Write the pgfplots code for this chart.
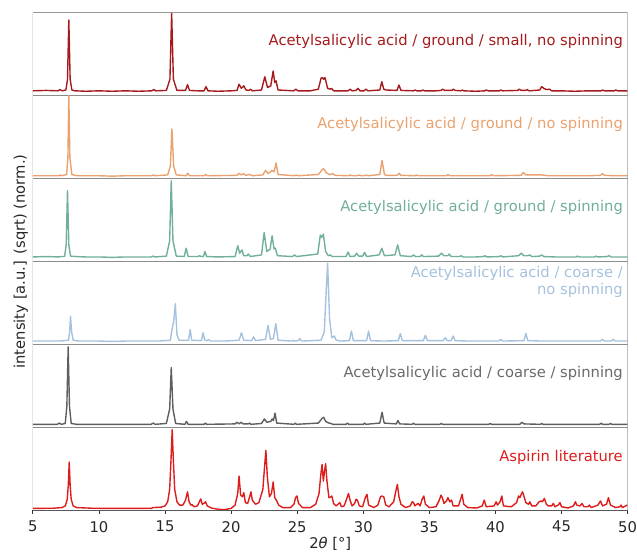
\documentclass[border=0pt]{standalone}
\usepackage{fontspec}
\setmainfont{DejaVu Sans}
\usepackage{pgfplots}
\usepackage{pgfplotstable}
\pgfplotsset{compat=1.18}
\definecolor{cdred}{HTML}{A51A1C}
\definecolor{corange}{HTML}{E9A26F}
\definecolor{cteal}{HTML}{70AF9A}
\definecolor{cblue}{HTML}{A6C1DD}
\definecolor{cgray}{HTML}{5E5E5E}
\definecolor{cgraylab}{HTML}{6A6A6A}
\definecolor{cred}{HTML}{DD1C1C}
\newcommand\ff{\fontsize{14.8bp}{16.7bp}\selectfont}

\pgfplotstableread{
x y
5.0 0.06
6.0 0.065
6.9 0.06
7.05 0.075
7.2 0.06
7.5 0.07
7.62 0.2
7.72 0.915
7.82 0.2
7.95 0.07
8.2 0.06
9.0 0.055
10 0.06
11 0.055
12 0.06
13 0.055
14.0 0.06
14.15 0.075
14.3 0.06
15.1 0.065
15.37 0.2
15.5 1.0
15.63 0.2
15.9 0.065
16.55 0.065
16.7 0.135
16.85 0.065
17.5 0.06
17.95 0.06
18.1 0.11
18.25 0.06
19.0 0.055
20.0 0.06
20.45 0.065
20.6 0.14
20.78 0.09
20.96 0.12
21.12 0.07
21.35 0.065
21.47 0.08
21.6 0.06
22.3 0.07
22.55 0.23
22.75 0.1
23.0 0.12
23.18 0.30
23.3 0.16
23.4 0.18
23.55 0.07
24.75 0.06
24.9 0.08
25.05 0.06
26.0 0.06
26.6 0.08
26.8 0.21
26.9 0.22
27.0 0.2
27.1 0.22
27.3 0.09
27.5 0.08
27.6 0.09
27.75 0.06
28.85 0.06
29.0 0.08
29.15 0.06
29.45 0.065
29.6 0.09
29.75 0.06
30.05 0.06
30.2 0.08
30.35 0.06
31.25 0.07
31.4 0.17
31.55 0.08
31.7 0.07
32.55 0.065
32.7 0.13
32.85 0.065
33.8 0.06
33.9 0.07
34.05 0.06
34.4 0.06
34.5 0.07
34.65 0.06
35.5 0.06
35.9 0.065
36.0 0.08
36.15 0.065
36.7 0.065
36.8 0.08
36.95 0.065
37.4 0.06
37.5 0.07
37.6 0.06
38.5 0.055
39.2 0.06
39.3 0.07
39.45 0.06
40.3 0.06
40.4 0.07
40.55 0.06
41.7 0.065
41.8 0.08
41.95 0.065
42.3 0.065
42.4 0.075
42.55 0.06
43.35 0.07
43.5 0.11
43.7 0.085
43.9 0.075
44.1 0.08
44.25 0.06
45 0.06
46 0.055
47 0.06
48.0 0.06
48.1 0.07
48.25 0.06
49.0 0.06
49.1 0.07
49.25 0.06
50 0.06
}\pone

\pgfplotstableread{
x y
5.0 0.035
6.0 0.035
7.0 0.035
7.05 0.045
7.2 0.035
7.55 0.05
7.65 0.25
7.72 1.0
7.8 0.25
7.95 0.05
8.3 0.035
9 0.035
10 0.035
11 0.03
12 0.035
13 0.035
14.0 0.035
14.12 0.045
14.25 0.035
15.2 0.045
15.4 0.15
15.52 0.60
15.65 0.15
15.85 0.045
16.6 0.035
16.72 0.065
16.85 0.035
17.95 0.035
18.08 0.05
18.2 0.035
20.45 0.04
20.6 0.065
20.75 0.045
20.95 0.06
21.1 0.04
21.45 0.05
21.6 0.035
22.4 0.045
22.6 0.10
22.8 0.06
23.1 0.10
23.25 0.08
23.4 0.19
23.55 0.05
24.8 0.035
24.92 0.045
25.05 0.035
26.6 0.05
26.9 0.11
27.0 0.12
27.2 0.07
27.45 0.05
27.7 0.06
27.85 0.04
28.9 0.035
29.0 0.045
29.15 0.035
29.55 0.035
29.7 0.045
29.85 0.035
30.1 0.035
30.2 0.045
30.35 0.035
31.25 0.05
31.42 0.22
31.6 0.05
31.75 0.04
32.55 0.04
32.7 0.065
32.85 0.04
33.9 0.035
34.0 0.045
34.15 0.035
36.3 0.035
36.4 0.05
36.55 0.035
37.5 0.035
38.5 0.035
39.6 0.035
39.7 0.05
39.85 0.035
41.95 0.04
42.1 0.075
42.3 0.045
43.5 0.045
44 0.035
45 0.035
46 0.035
47 0.035
47.95 0.04
48.1 0.06
48.25 0.04
49 0.035
50 0.035
}\ptwo

\pgfplotstableread{
x y
5.0 0.055
6.0 0.06
7.0 0.055
7.1 0.06
7.4 0.06
7.52 0.2
7.62 0.857
7.72 0.2
7.85 0.065
8.2 0.06
9 0.055
10 0.055
11 0.05
12 0.055
13 0.055
13.95 0.055
14.1 0.065
14.25 0.055
15.1 0.065
15.35 0.25
15.47 0.976
15.6 0.25
15.85 0.065
16.45 0.06
16.6 0.16
16.75 0.06
17.5 0.06
17.6 0.07
17.75 0.06
17.9 0.06
18.02 0.12
18.15 0.06
19 0.055
20.3 0.06
20.5 0.19
20.65 0.1
20.82 0.14
20.95 0.07
21.2 0.07
21.3 0.09
21.45 0.06
22.3 0.08
22.5 0.35
22.7 0.12
22.95 0.15
23.1 0.31
23.25 0.15
23.35 0.16
23.5 0.07
24.65 0.06
24.8 0.08
24.95 0.06
26.55 0.09
26.75 0.32
26.85 0.29
26.98 0.33
27.15 0.12
27.35 0.07
27.5 0.08
27.65 0.06
28.7 0.06
28.85 0.115
29.0 0.06
29.35 0.065
29.5 0.1
29.65 0.065
29.95 0.065
30.1 0.11
30.25 0.06
31.2 0.08
31.4 0.16
31.6 0.07
32.4 0.08
32.6 0.20
32.8 0.07
33.65 0.06
33.8 0.08
33.95 0.06
34.3 0.06
34.42 0.08
34.55 0.06
35.7 0.065
35.9 0.1
36.1 0.07
36.4 0.07
36.5 0.09
36.65 0.06
37.3 0.06
37.4 0.07
37.55 0.055
38.5 0.055
39.1 0.06
39.2 0.07
39.35 0.055
40.3 0.06
40.4 0.07
40.55 0.055
41.75 0.07
41.95 0.1
42.15 0.07
42.45 0.07
42.6 0.08
42.75 0.06
43.35 0.065
43.5 0.08
43.65 0.06
44.5 0.055
45.5 0.055
46.1 0.055
46.2 0.065
46.35 0.055
47.5 0.055
47.6 0.065
47.75 0.055
48.45 0.06
48.6 0.07
48.75 0.055
49.5 0.055
50 0.055
}\pthree

\pgfplotstableread{
x y
5.0 0.04
6.0 0.04
7.0 0.04
7.7 0.05
7.78 0.15
7.85 0.34
7.93 0.15
8.05 0.05
8.5 0.04
9 0.04
10 0.04
11 0.035
12 0.04
13 0.04
14 0.04
14.5 0.04
15.4 0.05
15.55 0.2
15.65 0.27
15.78 0.49
15.9 0.12
16.05 0.05
16.78 0.05
16.9 0.18
17.02 0.05
17.75 0.045
17.88 0.14
18.0 0.05
18.2 0.045
18.3 0.06
18.42 0.04
19.5 0.04
20.6 0.05
20.78 0.14
20.95 0.05
21.55 0.045
21.7 0.09
21.85 0.045
22.6 0.06
22.8 0.23
22.97 0.06
23.2 0.07
23.38 0.25
23.55 0.05
24.6 0.04
24.7 0.05
24.8 0.04
25.08 0.045
25.2 0.07
25.32 0.04
26.8 0.05
27.05 0.15
27.18 0.6
27.3 0.98
27.45 0.3
27.62 0.08
27.8 0.1
27.95 0.05
28.3 0.04
28.95 0.045
29.1 0.16
29.25 0.045
30.25 0.045
30.4 0.16
30.55 0.045
31.5 0.04
32.65 0.045
32.8 0.13
32.95 0.045
34.55 0.045
34.7 0.11
34.85 0.045
36.05 0.045
36.2 0.08
36.35 0.045
36.65 0.045
36.8 0.1
36.95 0.045
38 0.04
39 0.04
40.25 0.04
40.4 0.06
40.55 0.04
42.15 0.045
42.3 0.13
42.45 0.045
43.5 0.04
44.5 0.04
45.5 0.04
47 0.04
47.95 0.04
48.1 0.06
48.25 0.04
48.75 0.04
48.9 0.06
49.05 0.04
50 0.04
}\pfour

\pgfplotstableread{
x y
5.0 0.035
6 0.035
6.85 0.035
7.0 0.05
7.15 0.035
7.45 0.045
7.57 0.25
7.67 0.97
7.77 0.25
7.9 0.045
8.3 0.035
9 0.035
10 0.035
11 0.035
12 0.035
13 0.035
13.95 0.035
14.1 0.05
14.25 0.035
15.1 0.045
15.35 0.22
15.47 0.72
15.6 0.22
15.8 0.045
16.5 0.035
16.62 0.07
16.75 0.035
17.95 0.035
18.05 0.05
18.15 0.035
20.3 0.04
20.45 0.06
20.6 0.04
20.75 0.06
20.9 0.04
21.3 0.04
21.4 0.05
21.5 0.035
22.3 0.045
22.52 0.10
22.7 0.06
23.0 0.07
23.1 0.10
23.2 0.08
23.32 0.17
23.45 0.05
24.75 0.035
24.85 0.05
24.95 0.035
26.6 0.05
26.9 0.11
27.0 0.12
27.15 0.07
27.4 0.05
27.55 0.045
27.7 0.035
28.7 0.035
28.8 0.05
28.9 0.035
30.0 0.035
30.1 0.05
30.2 0.035
31.25 0.05
31.42 0.18
31.58 0.05
32.5 0.04
32.62 0.08
32.75 0.04
33.7 0.035
33.8 0.05
33.9 0.035
35.8 0.035
35.9 0.045
36.0 0.035
37 0.035
38 0.035
39.5 0.035
39.6 0.045
39.7 0.035
41.85 0.035
42.0 0.06
42.15 0.04
43.4 0.035
43.5 0.045
43.6 0.035
45 0.035
46 0.035
47.9 0.035
48.0 0.05
48.1 0.035
48.6 0.035
48.7 0.045
48.8 0.035
50 0.035
}\pfive

\pgfplotstableread{
x y
5.0 0.02
6.5 0.022
7.2 0.03
7.45 0.05
7.6 0.13
7.68 0.3
7.75 0.58
7.82 0.3
7.9 0.13
8.05 0.05
8.3 0.03
9.5 0.022
11 0.02
13 0.02
14.0 0.02
14.05 0.03
14.7 0.035
15.0 0.05
15.2 0.1
15.35 0.25
15.45 0.6
15.54 0.97
15.63 0.6
15.73 0.25
15.9 0.1
16.1 0.06
16.35 0.06
16.55 0.12
16.7 0.22
16.82 0.1
16.95 0.06
17.05 0.065
17.2 0.04
17.45 0.05
17.6 0.1
17.7 0.135
17.82 0.07
17.95 0.08
18.06 0.1
18.2 0.05
18.5 0.025
19.0 0.01
19.5 0.005
20.0 0.02
20.3 0.06
20.5 0.2
20.6 0.41
20.72 0.18
20.85 0.16
20.96 0.21
21.08 0.09
21.25 0.08
21.4 0.16
21.5 0.22
21.6 0.12
21.85 0.07
22.1 0.09
22.4 0.25
22.52 0.5
22.63 0.72
22.74 0.4
22.9 0.16
23.05 0.2
23.18 0.34
23.3 0.15
23.42 0.12
23.6 0.06
23.9 0.03
24.5 0.03
24.75 0.07
24.88 0.15
24.98 0.17
25.1 0.08
25.4 0.03
26.0 0.03
26.4 0.07
26.65 0.2
26.8 0.45
26.88 0.55
26.98 0.35
27.05 0.45
27.15 0.56
27.25 0.35
27.4 0.15
27.55 0.16
27.62 0.17
27.75 0.08
27.95 0.05
28.15 0.08
28.22 0.09
28.35 0.04
28.55 0.05
28.75 0.14
28.88 0.2
29.0 0.12
29.15 0.05
29.35 0.08
29.45 0.13
29.55 0.12
29.7 0.05
29.95 0.04
30.15 0.15
30.28 0.19
30.4 0.06
30.8 0.03
31.1 0.06
31.3 0.16
31.42 0.17
31.55 0.16
31.7 0.06
31.95 0.04
32.3 0.1
32.45 0.22
32.58 0.31
32.7 0.16
32.85 0.07
33.2 0.03
33.55 0.05
33.7 0.1
33.8 0.09
33.9 0.05
34.05 0.07
34.15 0.08
34.3 0.05
34.45 0.13
34.58 0.17
34.7 0.07
35.0 0.03
35.5 0.04
35.75 0.12
35.88 0.18
35.98 0.15
36.1 0.08
36.3 0.11
36.4 0.15
36.55 0.1
36.68 0.12
36.8 0.05
37.2 0.05
37.38 0.14
37.48 0.19
37.6 0.07
37.9 0.03
38.6 0.025
39.0 0.05
39.15 0.12
39.3 0.04
39.9 0.05
40.05 0.1
40.15 0.06
40.35 0.1
40.48 0.17
40.6 0.05
41.2 0.04
41.6 0.09
41.75 0.17
41.85 0.15
41.95 0.19
42.05 0.22
42.15 0.17
42.3 0.09
42.5 0.07
42.6 0.1
42.75 0.05
43.05 0.05
43.3 0.1
43.45 0.11
43.55 0.1
43.7 0.14
43.85 0.07
44.0 0.05
44.25 0.05
44.38 0.08
44.5 0.04
44.75 0.06
44.88 0.09
45.0 0.04
45.5 0.025
45.9 0.05
46.05 0.1
46.15 0.06
46.4 0.05
46.55 0.08
46.7 0.04
47.0 0.04
47.1 0.06
47.25 0.03
47.75 0.06
47.95 0.11
48.1 0.05
48.4 0.07
48.55 0.15
48.7 0.06
49.1 0.03
49.4 0.04
49.5 0.06
49.6 0.03
49.85 0.05
49.95 0.06
50 0.05
}\psix

\begin{document}
\begin{tikzpicture}
\begin{axis}[
  width=597bp, height=499bp, scale only axis,
  xmin=5, xmax=50, ymin=0, ymax=6,
  xtick={5,10,...,50}, ytick=\empty,
  xtick pos=left, tick align=outside,
  major tick length=3.5bp,
  tick style={black!80, line width=0.8pt},
  axis line style={draw=none},
  extra y ticks={1,2,3,4,5}, extra y tick labels={},
  extra y tick style={grid=major, major tick length=0pt,
    major grid style={black!45, line width=1.4pt}},
  /pgf/number format/assume math mode=true,
  xticklabel style={font=\ff, text=black!85, inner sep=0pt, anchor=north, yshift=-7.5bp},
  xlabel={2\textit{θ} [°]},
  ylabel={intensity [a.u.] (sqrt) (norm.)},
  every axis x label/.style={at={(axis description cs:0.5,-0.0675)}, anchor=center, font=\ff, text=black!85},
  every axis y label/.style={at={(axis description cs:-0.0201,0.5)}, anchor=center, rotate=90, font=\ff, text=black!85},
  every axis plot/.append style={line width=1.4pt, line join=round},
]
\addplot[cdred] table[x=x, y expr=\thisrow{y}+5] {\pone};
\addplot[corange] table[x=x, y expr=\thisrow{y}+4] {\ptwo};
\addplot[cteal] table[x=x, y expr=\thisrow{y}+3] {\pthree};
\addplot[cblue] table[x=x, y expr=\thisrow{y}+2] {\pfour};
\addplot[cgray] table[x=x, y expr=\thisrow{y}+1] {\pfive};
\addplot[cred] table[x=x, y expr=\thisrow{y}] {\psix};
\draw[black!40, line width=1.1pt] (axis cs:5,6) -- (axis cs:50,6) -- (axis cs:50,0);
\draw[black!65, line width=1.1pt] (axis cs:5,0) -- (axis cs:50,0);
\draw[black!80, line width=1.1pt] (axis cs:5,0) -- (axis cs:5,6);
\node[font=\ff, text=cdred, anchor=east, inner sep=0pt] at (axis cs:49.65,5.66) {Acetylsalicylic acid / ground / small, no spinning};
\node[font=\ff, text=corange, anchor=east, inner sep=0pt] at (axis cs:49.65,4.65) {Acetylsalicylic acid / ground / no spinning};
\node[font=\ff, text=cteal, anchor=east, inner sep=0pt] at (axis cs:49.65,3.65) {Acetylsalicylic acid / ground / spinning};
\node[font=\ff, text=cblue, anchor=east, inner sep=0pt, align=right] at (axis cs:49.65,2.75) {Acetylsalicylic acid / coarse /\\no spinning};
\node[font=\ff, text=cgraylab, anchor=east, inner sep=0pt] at (axis cs:49.65,1.65) {Acetylsalicylic acid / coarse / spinning};
\node[font=\ff, text=cred, anchor=east, inner sep=0pt] at (axis cs:49.65,0.64) {Aspirin literature};
\end{axis}
\path[use as bounding box] (-33bp,-40bp) rectangle (604bp,512bp);
\end{tikzpicture}
\end{document}
